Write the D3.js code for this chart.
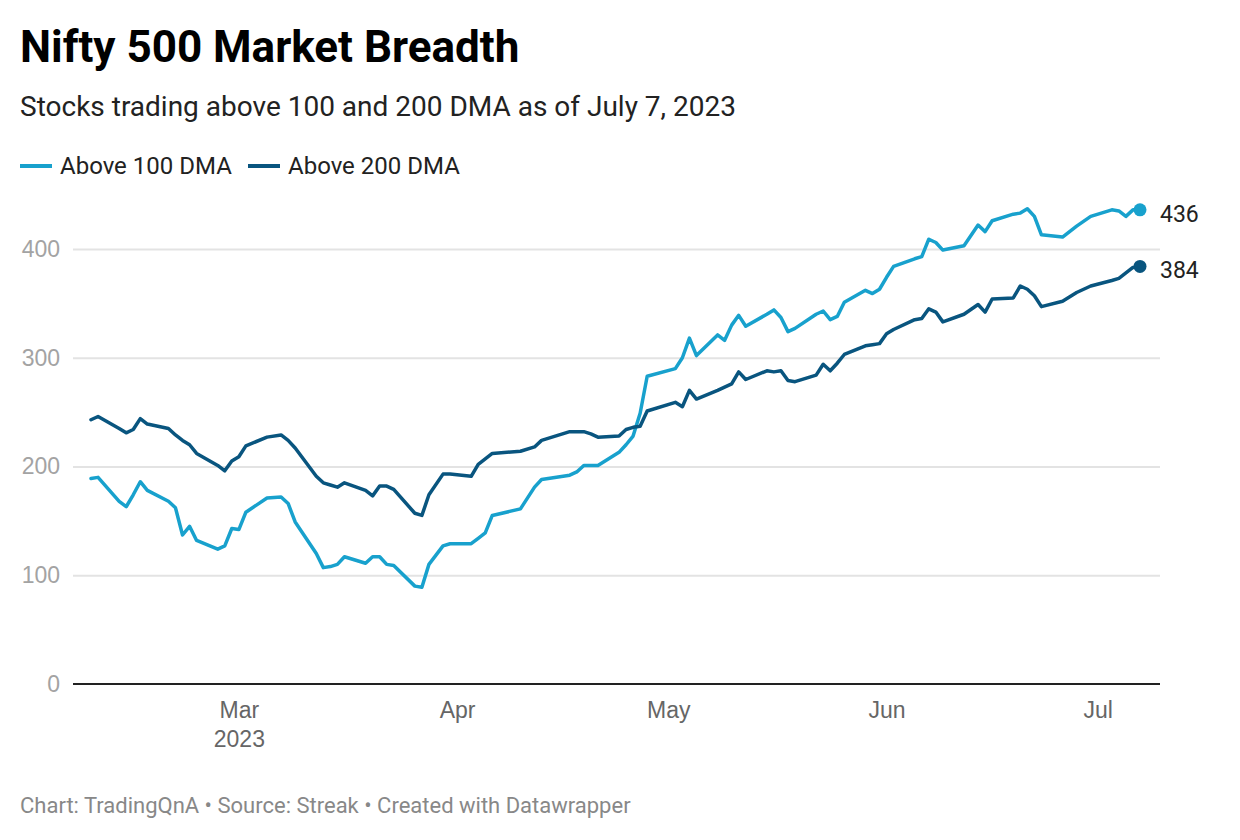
<!doctype html>
<html>
<head>
<meta charset="utf-8">
<style>
    body { margin: 0; background: #fff; }
    svg { display: block; font-family: Roboto, "Noto Sans", sans-serif; }
    .title { font-size: 44px; font-weight: 700; fill: #000; }
    .subtitle { font-size: 28px; fill: #222; }
    .legend text { font-size: 24px; fill: #222; }
    .y-axis text { font-size: 23px; fill: #a3a3a3; }
    .y-axis line { stroke: #e3e3e3; stroke-width: 2; }
    .x-axis text { font-size: 23px; fill: #666; }
    .end-label { font-size: 23px; fill: #222; }
    .footer { font-size: 22px; fill: #888; }
    path.line { fill: none; stroke-width: 3.5; stroke-linejoin: round; stroke-linecap: round; }
</style>
</head>
<body>
<svg id="chart" width="1240" height="840"></svg>
<script src="https://cdn.jsdelivr.net/npm/d3@7"></script>
<script>
    var dates = [
        '2023-02-08', '2023-02-09', '2023-02-12', '2023-02-13', '2023-02-14', '2023-02-15', '2023-02-16',
        '2023-02-19', '2023-02-20', '2023-02-21', '2023-02-22', '2023-02-23', '2023-02-26', '2023-02-27', '2023-02-28',
        '2023-03-01', '2023-03-02', '2023-03-05', '2023-03-07', '2023-03-08', '2023-03-09', '2023-03-12',
        '2023-03-13', '2023-03-14', '2023-03-15', '2023-03-16', '2023-03-19', '2023-03-20', '2023-03-21',
        '2023-03-22', '2023-03-23', '2023-03-26', '2023-03-27', '2023-03-28', '2023-03-30', '2023-03-31',
        '2023-04-03', '2023-04-04', '2023-04-05', '2023-04-06', '2023-04-10', '2023-04-12', '2023-04-13',
        '2023-04-17', '2023-04-18', '2023-04-19', '2023-04-20', '2023-04-21', '2023-04-24', '2023-04-25',
        '2023-04-26', '2023-04-27', '2023-04-28',
        '2023-05-02', '2023-05-03', '2023-05-04', '2023-05-05', '2023-05-08', '2023-05-09', '2023-05-10',
        '2023-05-11', '2023-05-12', '2023-05-15', '2023-05-16', '2023-05-17', '2023-05-18', '2023-05-19',
        '2023-05-22', '2023-05-23', '2023-05-24', '2023-05-25', '2023-05-26', '2023-05-29', '2023-05-30', '2023-05-31',
        '2023-06-01', '2023-06-02', '2023-06-05', '2023-06-06', '2023-06-07', '2023-06-08', '2023-06-09',
        '2023-06-12', '2023-06-14', '2023-06-15', '2023-06-16', '2023-06-19', '2023-06-20', '2023-06-21',
        '2023-06-22', '2023-06-23', '2023-06-26', '2023-06-28', '2023-06-30',
        '2023-07-03', '2023-07-04', '2023-07-05', '2023-07-06', '2023-07-07'
    ];

    var above100 = [
        189, 190, 168, 163, 174, 186, 178, 168, 162, 137, 145, 132, 124, 127, 143,
        142, 158, 171, 172, 166, 149, 120, 107, 108, 110, 117, 111, 117, 117, 110, 109, 90, 89, 110, 127, 129,
        129, 134, 139, 155, 161, 181, 188, 192, 195, 201, 201, 201, 213, 220, 228, 249, 283,
        290, 300, 318, 302, 321, 316, 330, 339, 329, 340, 344, 337, 324, 327, 340, 343, 335, 338, 351, 362, 359, 363,
        374, 384, 391, 393, 409, 406, 399, 403, 422, 416, 426, 432, 433, 437, 430, 413, 411, 421, 430,
        436, 435, 430, 436, 436
    ];

    var above200 = [
        243, 246, 235, 231, 234, 244, 239, 235, 229, 224, 220, 212, 201, 196, 205,
        209, 219, 227, 229, 224, 217, 191, 185, 183, 181, 185, 178, 173, 182, 182, 179, 157, 155, 174, 193, 193,
        191, 202, 207, 212, 214, 218, 224, 232, 232, 232, 230, 227, 228, 234, 236, 237, 251,
        259, 255, 270, 262, 270, 273, 276, 287, 280, 288, 287, 288, 279, 278, 284, 294, 288, 295, 303, 311, 312, 313,
        322, 326, 335, 336, 345, 342, 333, 340, 349, 342, 354, 355, 366, 363, 357, 347, 352, 360, 366,
        371, 373, 378, 383, 384
    ];

    var seriesNames = ['Above 100 DMA', 'Above 200 DMA'];
    var colors = ['#18a1cd', '#09557f'];
    var yTicks = [0, 100, 200, 300, 400];
    var xTicks = ['2023-03-01', '2023-04-01', '2023-05-01', '2023-06-01', '2023-07-01'];

    var parse = d3.timeParse('%Y-%m-%d');
    var rows = dates.map(function(d, i) {
        return { date: parse(d), v100: above100[i], v200: above200[i] };
    });

    var svg = d3.select('#chart');
    var left = 73, right = 1160;

    var x = d3.scaleTime()
            .domain([parse('2023-02-08'), parse('2023-07-07')])
            .range([91, 1140]);
    var y = d3.scaleLinear().domain([0, 400]).range([684, 249]);

    // header
    svg.append('text').attr('class', 'title').attr('x', 20).attr('y', 62).text('Nifty 500 Market Breadth');
    svg.append('text').attr('class', 'subtitle').attr('x', 20).attr('y', 116)
            .text('Stocks trading above 100 and 200 DMA as of July 7, 2023');

    // legend
    var legend = svg.append('g').attr('class', 'legend');
    var legendX = [20, 248];
    seriesNames.forEach(function(name, i) {
        legend.append('line')
                .attr('x1', legendX[i]).attr('x2', legendX[i] + 32)
                .attr('y1', 166).attr('y2', 166)
                .attr('stroke', colors[i]).attr('stroke-width', 4);
        legend.append('text')
                .attr('x', legendX[i] + 40).attr('y', 166).attr('dy', '0.35em')
                .text(name);
    });

    // y axis with gridlines
    var yAxis = svg.append('g')
            .attr('class', 'y-axis')
            .attr('transform', 'translate(' + left + ',0)')
            .call(d3.axisLeft(y).tickValues(yTicks).tickSize(-(right - left)).tickPadding(13));
    yAxis.select('.domain').remove();
    yAxis.selectAll('.tick line').filter(function(d) { return d === 0; }).remove();

    svg.append('line')
            .attr('x1', left).attr('x2', right)
            .attr('y1', y(0)).attr('y2', y(0))
            .attr('stroke', '#222').attr('stroke-width', 2);

    // x axis
    var xAxis = svg.append('g')
            .attr('class', 'x-axis')
            .attr('transform', 'translate(0,' + y(0) + ')')
            .call(d3.axisBottom(x).tickValues(xTicks.map(parse)).tickSize(0).tickPadding(18)
                    .tickFormat(d3.timeFormat('%b')));
    xAxis.select('.domain').remove();
    xAxis.selectAll('.tick text').filter(function(d, i) { return i === 0; })
            .append('tspan').attr('x', 0).attr('dy', '1.25em').text('2023');

    // lines
    var keys = ['v100', 'v200'];
    keys.forEach(function(k, i) {
        var liner = d3.line()
                .x(function(r) { return x(r.date); })
                .y(function(r) { return y(r[k]); });
        svg.append('path')
                .attr('class', 'line')
                .attr('stroke', colors[i])
                .attr('d', liner(rows));

        var last = rows[rows.length - 1];
        svg.append('circle')
                .attr('cx', x(last.date)).attr('cy', y(last[k]))
                .attr('r', 6.5).attr('fill', colors[i]);
        svg.append('text')
                .attr('class', 'end-label')
                .attr('x', x(last.date) + 20).attr('y', y(last[k]) + 4).attr('dy', '0.35em')
                .text(last[k]);
    });

    svg.append('text').attr('class', 'footer').attr('x', 20).attr('y', 813)
            .text('Chart: TradingQnA \u2022 Source: Streak \u2022 Created with Datawrapper');
</script>
</body>
</html>
